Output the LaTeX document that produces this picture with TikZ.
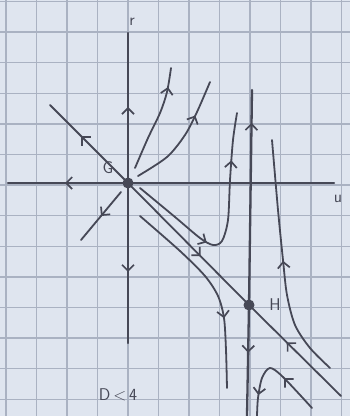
\documentclass[tikz,border=0pt]{standalone}
\usetikzlibrary{decorations.markings,arrows.meta}
\definecolor{paper}{RGB}{223,229,239}
\definecolor{gridc}{RGB}{170,178,194}
\definecolor{ink}{RGB}{70,72,86}
\tikzset{
  inkline/.style={draw=ink, line width=2.3pt, line cap=round, line join=round},
  thinink/.style={draw=ink, line width=1.8pt, line cap=round, line join=round},
  barb/.style={decoration={markings, mark=at position #1 with {\arrow{Straight Barb[length=6pt,width=12pt,line width=1.7pt]}}}, postaction={decorate}},
  barbb/.style 2 args={decoration={markings,
      mark=at position #1 with {\arrow{Straight Barb[length=6pt,width=12pt,line width=1.7pt]}},
      mark=at position #2 with {\arrow{Straight Barb[length=6pt,width=12pt,line width=1.7pt]}}}, postaction={decorate}},
  pt/.style={circle, fill=ink, inner sep=0pt, minimum size=11pt},
  hand/.style={text=ink, font=\sffamily\fontsize{17}{19}\selectfont},
}
\begin{document}
\begin{tikzpicture}[x=1pt, y=-1pt]
  \fill[paper] (0,0) rectangle (350,416);
  \useasboundingbox (0,0) rectangle (350,416);
  % grid
  \foreach \i in {0,...,11} {
    \draw[gridc, line width=1.4pt] ({6+30.5*\i},0) -- ({6+30.5*\i},416);
  }
  \foreach \j in {0,...,13} {
    \draw[gridc, line width=1.4pt] (0,{1.5+30.6*\j}) -- (350,{1.5+30.6*\j});
  }
  % named points
  \coordinate (G) at (128,183);
  \coordinate (H) at (249,305);
  \coordinate (uleft) at (8,183);
  \coordinate (uright) at (334,183);
  \coordinate (rtop) at (128,33);
  \coordinate (rbot) at (128,343);
  \coordinate (dtop) at (50,105);
  \coordinate (dbot) at (341,396);
  \coordinate (vtop) at (252,90);
  \coordinate (vbot) at (247,416);
  \coordinate (llA) at (121,192);
  \coordinate (llB) at (81,240);
  % axes
  \draw[inkline, barb=0.525] (G) -- (uleft);
  \draw[inkline] (G) -- (uright);
  \draw[inkline, barb=0.507] (G) -- (rtop);
  \draw[inkline, barb=0.556] (G) -- (rbot);
  % diagonal through G and H
  \draw[thinink, barb=0.6] (G) -- (dtop);
  \draw[thinink, barb=0.6] (G) -- (H);
  \draw[thinink, barb=0.59] (dbot) -- (H);
  % vertical through H
  \draw[inkline, barb=0.847] (H) -- (vtop);
  \draw[inkline, barb=0.43] (H) -- (vbot);
  % lower-left trajectory from G
  \draw[thinink, barb=0.5] (llA) -- (llB);
  % curves leaving G upward
  \draw[thinink, barb=0.82] plot[smooth] coordinates {(135,168) (148,138) (160,113) (167,92) (171,68)};
  \draw[thinink, barb=0.7] plot[smooth] coordinates {(138,176) (167,157) (185,135) (197,112) (210,82)};
  % curve turning up left of H
  \draw[thinink, barbb={0.37}{0.795}] plot[smooth, tension=0.5] coordinates {(140,188) (175,217) (200,238) (213,245) (222,241) (228,220) (230,180) (233,140) (237,113)};
  % curve going down left of H
  \draw[thinink, barb=0.66] plot[smooth] coordinates {(140,216) (180,251) (205,276) (218,296) (224,318) (226,350) (227,388)};
  % curve right of H
  \draw[thinink, barb=0.5] plot[smooth] coordinates {(330,368) (310,348) (295,325) (287,295) (283,260) (278,210) (272,140)};
  % bottom curve
  \draw[thinink, barbb={0.37}{0.81}] plot[smooth, tension=0.5] coordinates {(312,408) (283,377) (270,368) (262,378) (258,398) (257,416)};
  % fixed points
  \node[pt] (Gdot) at (G) {};
  \node[pt] (Hdot) at (H) {};
  % labels
  \node[hand] (rlab) at (132,22) {r};
  \node[hand] (ulab) at (338,199) {u};
  \node[hand] (Glab) at (108,168) {G};
  \node[hand] (Hlab) at (275,305) {H};
  \node[hand] (dlab) at (118,395) {D\,<\,4};
\end{tikzpicture}
\end{document}
